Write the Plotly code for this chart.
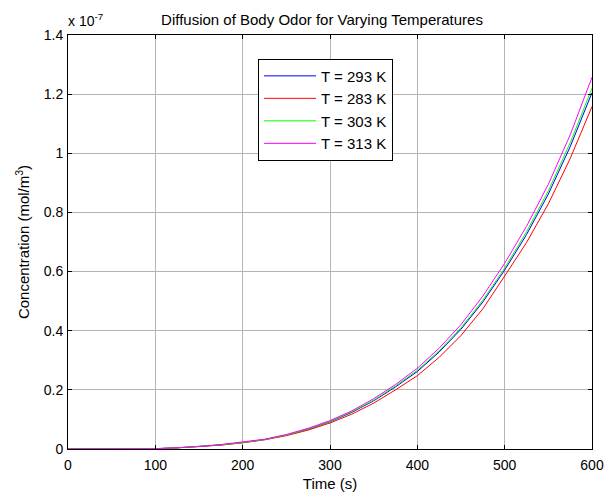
import plotly.graph_objects as go

# Time (s)
time_s = [0, 25, 50, 75, 100, 125, 150, 175, 200, 225, 250, 275, 300,
          325, 350, 375, 400, 425, 450, 475, 500, 525, 550, 575, 600]

# Concentration in units of 1e-7 mol/m^3
conc_293 = [0, 0, 0, 0.0002, 0.001, 0.004, 0.008, 0.014, 0.022, 0.032, 0.047, 0.067, 0.092,
            0.124, 0.163, 0.210, 0.262, 0.328, 0.405, 0.497, 0.605, 0.725, 0.862, 1.022, 1.205]
conc_283 = [0, 0, 0, 0.0002, 0.001, 0.004, 0.008, 0.013, 0.021, 0.031, 0.045, 0.064, 0.088,
            0.118, 0.155, 0.200, 0.248, 0.310, 0.384, 0.474, 0.585, 0.698, 0.829, 0.982, 1.158]
conc_303 = [0, 0, 0, 0.0002, 0.001, 0.004, 0.008, 0.014, 0.022, 0.032, 0.047, 0.068, 0.093,
            0.126, 0.165, 0.213, 0.266, 0.332, 0.410, 0.503, 0.612, 0.734, 0.873, 1.035, 1.220]
conc_313 = [0, 0, 0, 0.0002, 0.001, 0.004, 0.008, 0.015, 0.023, 0.033, 0.049, 0.070, 0.096,
            0.129, 0.170, 0.218, 0.273, 0.341, 0.421, 0.517, 0.628, 0.753, 0.895, 1.062, 1.257]

series = [
    ("T = 293 K", conc_293, "#0000ff"),
    ("T = 283 K", conc_283, "#ff0000"),
    ("T = 303 K", conc_303, "#00ff00"),
    ("T = 313 K", conc_313, "#ff00ff"),
]

x_ticks = [0, 100, 200, 300, 400, 500, 600]
y_ticks = [0, 0.2, 0.4, 0.6, 0.8, 1.0, 1.2, 1.4]
y_tick_labels = ["0", "0.2", "0.4", "0.6", "0.8", "1", "1.2", "1.4"]

FONT = "Liberation Sans, Arial, sans-serif"

fig = go.Figure()
for i, (name, vals, color) in enumerate(series):
    fig.add_trace(go.Scatter(x=time_s, y=vals, mode="lines", name=name,
                             legendgroup=f"g{i}",
                             line=dict(color=color, width=1)))

axis_common = dict(
    showline=True, linecolor="black", linewidth=1, mirror="ticks",
    ticks="inside", ticklen=4, tickcolor="black",
    showgrid=True, gridcolor="#b4b4b4", gridwidth=1,
    zeroline=False, tickfont=dict(family=FONT, size=14, color="black"),
)

# The page body adds an 8px offset; margins compensate for it.
fig.update_layout(
    width=615, height=492,
    margin=dict(l=60, r=31, t=27, b=51, autoexpand=False),
    paper_bgcolor="white", plot_bgcolor="white",
    font=dict(family=FONT, size=14, color="black"),
    title=dict(text="Diffusion of Body Odor for Varying Temperatures",
               x=0.5106, xanchor="center", y=0.977, yanchor="middle",
               font=dict(family=FONT, size=15, color="black")),
    xaxis=dict(range=[0, 600], tickvals=x_ticks, ticklabelstandoff=3,
               title=dict(text="Time (s)", standoff=6,
                          font=dict(family=FONT, size=15)),
               **axis_common),
    yaxis=dict(range=[0, 1.4], tickvals=y_ticks, ticktext=y_tick_labels,
               ticklabelstandoff=1,
               title=dict(text="Concentration (mol/m<sup>3</sup>)", standoff=10,
                          font=dict(family=FONT, size=15)),
               **axis_common),
    legend=dict(x=0.3626, y=0.943, xanchor="left", yanchor="top",
                bgcolor="white", bordercolor="black", borderwidth=1,
                font=dict(family=FONT, size=15, color="black"),
                tracegroupgap=0, itemwidth=52),
    showlegend=True,
)

fig.add_annotation(text="x 10<sup>-7</sup>", xref="paper", yref="paper",
                   x=-0.004, y=1, xanchor="left", yanchor="middle", yshift=15,
                   showarrow=False,
                   font=dict(family=FONT, size=14, color="black"))

fig.write_html("out.html")
